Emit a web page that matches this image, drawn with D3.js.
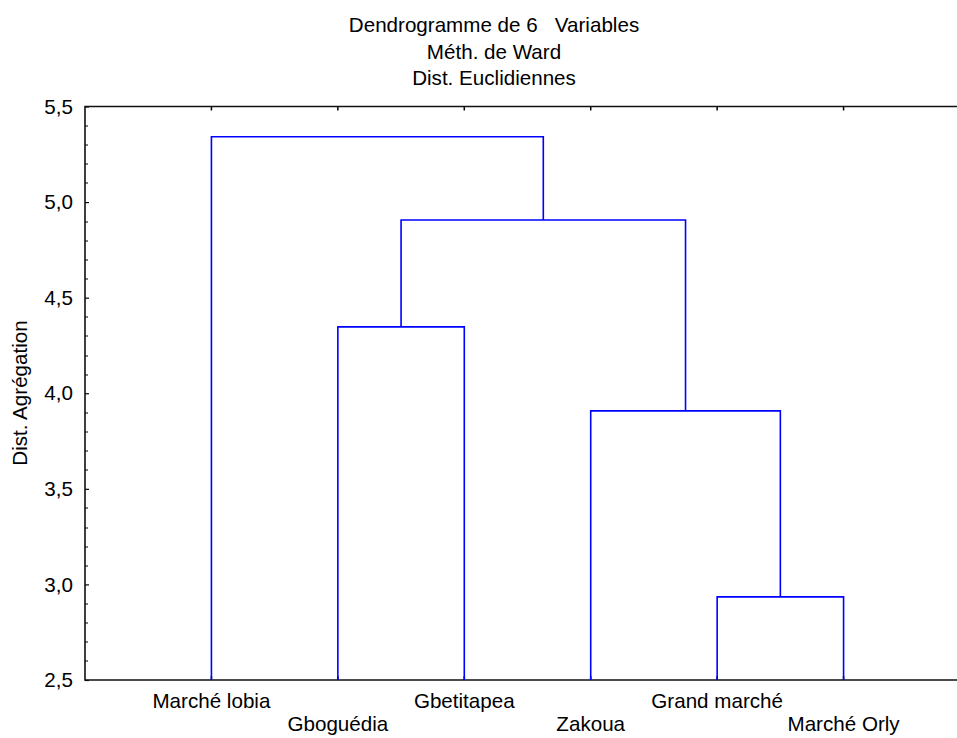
<!DOCTYPE html>
<html>
<head>
<meta charset="utf-8">
<script src="https://cdn.jsdelivr.net/npm/d3@7"></script>
<style>
  body { margin: 0; background: #fff; }
  svg text { font-family: "Liberation Sans", Arial, sans-serif; fill: #000; }
</style>
</head>
<body>
<div id="chart"></div>
<script>
// leaves in dendrogram order
const leaves = ["Marché lobia", "Gboguédia", "Gbetitapea", "Zakoua", "Grand marché", "Marché Orly"];

// merges: [left, right, height]; ids < 6 are leaves, 6+ are earlier merges
const mergeLeft = [4, 1, 3, 7, 0];
const mergeRight = [5, 2, 6, 8, 9];
const mergeHeight = [2.935, 4.347, 3.908, 4.906, 5.342];

const yTicks = [2.5, 3.0, 3.5, 4.0, 4.5, 5.0, 5.5];
const titleLines = ["Dendrogramme de 6   Variables", "Méth. de Ward", "Dist. Euclidiennes"];
const yLabelText = "Dist. Agrégation";

let margin = { top: 106.5, left: 85, right: 0, bottom: 58 },
  width = 957 - margin.left - margin.right,
  height = 738 - margin.top - margin.bottom;

const fontSize = "20.6px";

const svg = d3
  .select("#chart")
  .append("svg")
  .attr("width", 957)
  .attr("height", 738);

const g = svg
  .append("g")
  .attr("transform", "translate(" + margin.left + "," + margin.top + ")");

// x runs past the right edge of the picture, like the original
const xScale = d3.scaleLinear().domain([0, leaves.length + 1]).range([0, 885]);
const yScale = d3.scaleLinear().domain([2.5, 5.5]).range([height, 0]);

// title
svg
  .selectAll(".title")
  .data(titleLines)
  .enter()
  .append("text")
  .attr("x", 494)
  .attr("y", (d, i) => 32 + i * 26.5)
  .attr("text-anchor", "middle")
  .style("font-size", fontSize)
  .style("white-space", "pre")
  .text((d) => d);

// y axis with minor ticks inside
const yAxis = g
  .append("g")
  .call(
    d3.axisLeft(yScale)
      .tickValues(yTicks)
      .tickSize(-4)
      .tickPadding(12)
      .tickFormat((d) => d3.format(".1f")(d).replace(".", ","))
  );
yAxis.select(".domain").remove();
yAxis.selectAll("text").style("font-size", fontSize).attr("font-family", null);
yAxis.selectAll("line").attr("stroke", "#000").attr("stroke-width", 1.2);

const minor = d3.range(26, 55).map((d) => d / 10).filter((d) => Math.round(d * 10) % 5 !== 0);
g.selectAll(".minor")
  .data(minor)
  .enter()
  .append("line")
  .attr("x1", 0)
  .attr("x2", 3)
  .attr("y1", (d) => Math.round(yScale(d)) + 0.5)
  .attr("y2", (d) => Math.round(yScale(d)) + 0.5)
  .attr("stroke", "#000")
  .attr("stroke-width", 1);

// leaf ticks on top and bottom, pointing inwards
const leafX = leaves.map((d, i) => xScale(i + 1));
g.selectAll(".btick")
  .data(leafX)
  .enter()
  .append("line")
  .attr("x1", (d) => d)
  .attr("x2", (d) => d)
  .attr("y1", height)
  .attr("y2", height - 4)
  .attr("stroke", "#000")
  .attr("stroke-width", 1.5);
g.selectAll(".ttick")
  .data(leafX)
  .enter()
  .append("line")
  .attr("x1", (d) => d)
  .attr("x2", (d) => d)
  .attr("y1", 0)
  .attr("y2", 4)
  .attr("stroke", "#000")
  .attr("stroke-width", 1.5);

// frame: left, top, bottom (no right side visible)
g.append("path")
  .attr("d", "M" + xScale(leaves.length + 1) + ",0H0V" + height + "H" + xScale(leaves.length + 1))
  .attr("fill", "none")
  .attr("stroke", "#111")
  .attr("stroke-width", 1.6);

// leaf labels, staggered on two rows
g.selectAll(".leaf")
  .data(leaves)
  .enter()
  .append("text")
  .attr("x", (d, i) => xScale(i + 1))
  .attr("y", (d, i) => height + (i % 2 === 0 ? 28 : 51))
  .attr("text-anchor", "middle")
  .style("font-size", fontSize)
  .text((d) => d);

// y label
svg
  .append("text")
  .attr("transform", "translate(27,393) rotate(-90)")
  .attr("text-anchor", "middle")
  .style("font-size", fontSize)
  .text(yLabelText);

// build node positions then draw each merge as a bracket
const nodeX = leafX.slice();
const nodeH = leaves.map(() => 2.5);
const links = [];
mergeHeight.forEach((h, i) => {
  const a = mergeLeft[i], b = mergeRight[i];
  links.push({ x1: nodeX[a], h1: nodeH[a], x2: nodeX[b], h2: nodeH[b], h: h });
  nodeX.push((nodeX[a] + nodeX[b]) / 2);
  nodeH.push(h);
});

g.selectAll(".link")
  .data(links)
  .enter()
  .append("path")
  .attr("fill", "none")
  .attr("stroke", "#0000ff")
  .attr("stroke-width", 1.6)
  .attr("d", (d) =>
    "M" + d.x1 + "," + yScale(d.h1) +
    "V" + yScale(d.h) +
    "H" + d.x2 +
    "V" + yScale(d.h2)
  );
</script>
</body>
</html>
